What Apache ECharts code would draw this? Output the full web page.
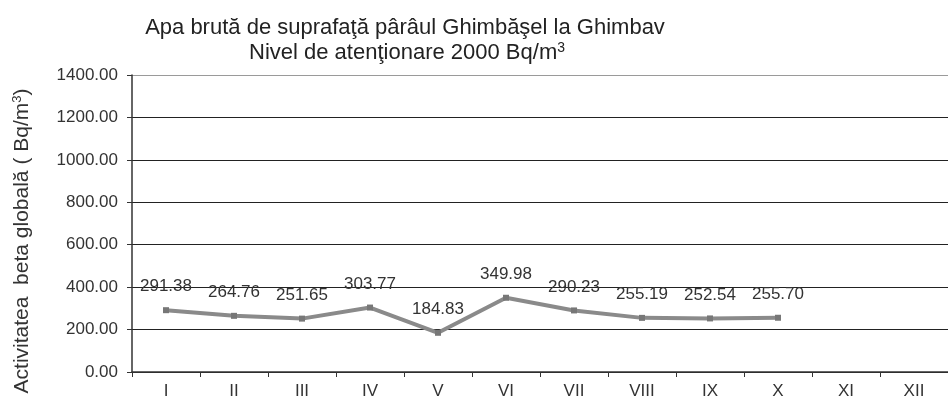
<!DOCTYPE html>
<html>
<head>
<meta charset="utf-8">
<script src="https://cdn.jsdelivr.net/npm/echarts@6/dist/echarts.min.js"></script>
<style>
  html, body { margin: 0; padding: 0; background: #fff; }
  #main { width: 948px; height: 400px; }
</style>
</head>
<body>
<div id="main"></div>
<script>
const months = ['I', 'II', 'III', 'IV', 'V', 'VI', 'VII', 'VIII', 'IX', 'X', 'XI', 'XII']
const beta = [291.38, 264.76, 251.65, 303.77, 184.83, 349.98, 290.23, 255.19, 252.54, 255.70, null, null]
const yTicks = [0, 200, 400, 600, 800, 1000, 1200, 1400]

const font = 'Liberation Sans, Arial, sans-serif'

// gridlines are dark, the top one (1400) is a lighter grey in the scan
const gridColors = yTicks.map(v => v === 1400 ? '#9a9a9a' : '#222')

const option = {
  animation: false,
  backgroundColor: '#fff',
  title: [
    {
      text: 'Apa brută de suprafaţă pârâul Ghimbăşel la Ghimbav',
      left: 400,
      top: 12,
      textAlign: 'center',
      textStyle: { fontFamily: font, fontSize: 22, fontWeight: 'normal', color: '#222' }
    },
    {
      text: '{a|Nivel de atenţionare 2000 Bq/m}{s|3}',
      left: 402,
      top: 36,
      textAlign: 'center',
      textStyle: {
        fontFamily: font, fontSize: 22, fontWeight: 'normal', color: '#222',
        rich: {
          a: { fontFamily: font, fontSize: 22, fontWeight: 'normal', color: '#222' },
          s: { fontFamily: font, fontSize: 14, fontWeight: 'normal', color: '#222', verticalAlign: 'top', padding: [0, 0, 10, 0] }
        }
      }
    }
  ],
  grid: { left: 132, top: 75, width: 828, height: 302 },
  xAxis: {
    type: 'category',
    data: months,
    boundaryGap: true,
    axisLine: { lineStyle: { color: '#333', width: 1.5 } },
    axisTick: { show: true, length: 5, lineStyle: { color: '#333' } },
    axisLabel: { fontFamily: font, fontSize: 17, color: '#333', margin: 11 },
    splitLine: { show: false }
  },
  yAxis: {
    type: 'value',
    min: 0,
    max: 1400,
    interval: 200,
    name: '{a|Activitatea  beta globală ( Bq/m}{s|3}{a|)}',
    nameLocation: 'middle',
    nameGap: 99,
    nameRotate: 90,
    nameTextStyle: {
      fontFamily: font, fontSize: 21, color: '#333',
      padding: [0, 35, 0, 0],
      rich: {
        a: { fontFamily: font, fontSize: 21, color: '#333' },
        s: { fontFamily: font, fontSize: 13, color: '#333', verticalAlign: 'top', padding: [0, 0, 9, 0] }
      }
    },
    axisLine: { show: true, lineStyle: { color: '#333', width: 1.5 } },
    axisTick: { show: true, length: 5, lineStyle: { color: '#333' } },
    axisLabel: {
      fontFamily: font, fontSize: 17, color: '#333', margin: 14,
      formatter: v => yTicks.includes(v) ? v.toFixed(2) : ''
    },
    splitLine: { show: true, lineStyle: { color: gridColors, width: 1 } }
  },
  series: [
    {
      type: 'line',
      data: beta,
      connectNulls: false,
      symbol: 'rect',
      symbolSize: 6,
      lineStyle: { color: '#8a8a8a', width: 4 },
      itemStyle: { color: '#777' },
      label: {
        show: true,
        position: 'top',
        distance: 12,
        fontFamily: font,
        fontSize: 17,
        color: '#333',
        formatter: p => p.value.toFixed(2)
      }
    }
  ]
}

let chart = echarts.init(document.getElementById('main'))
chart.setOption(option)
</script>
</body>
</html>
